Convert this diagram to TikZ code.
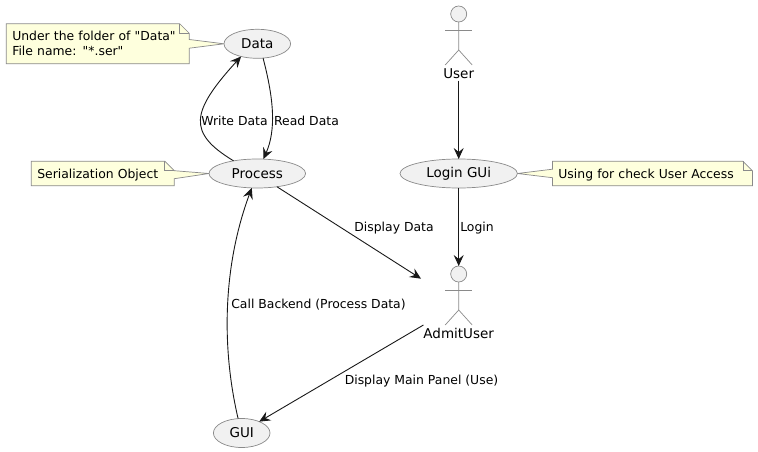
\documentclass[tikz,border=0pt]{standalone}
\usepackage{fontspec}
\setmainfont{DejaVu Sans}[Ligatures=TeXOff]
\usetikzlibrary{shapes.geometric,positioning,arrows.meta,backgrounds}
\definecolor{casefill}{HTML}{F1F1F1}
\definecolor{noteyellow}{HTML}{FEFFDD}
\definecolor{edgegray}{HTML}{8A8A8A}
\definecolor{linedark}{HTML}{181818}

\begin{document}
\begin{tikzpicture}[x=1pt,y=-1pt,every node/.style={outer sep=0pt},
		usecase/.style={ellipse,draw=edgegray,fill=casefill,line width=0.7pt,inner sep=0pt,minimum height=29pt,font=\fontsize{13.5}{16}\selectfont},
		actorpart/.style={draw=edgegray,line width=0.7pt},
		actorhead/.style={circle,actorpart,fill=casefill,inner sep=0pt,minimum size=16pt},
		actorlabel/.style={inner sep=0pt,font=\fontsize{13.5}{16}\selectfont},
		note/.style={inner xsep=6pt,inner ysep=0pt,align=left,font=\fontsize{12.4}{15}\selectfont},
		notebody/.style={draw=edgegray,fill=noteyellow,line width=0.7pt},
		flow/.style={draw=linedark,line width=0.9pt,-{Stealth[length=11pt,width=10pt,inset=4pt]}},
		flowlabel/.style={inner sep=0pt,font=\fontsize{12.4}{15}\selectfont}]

		\useasboundingbox (0,0) rectangle (758,452);

		\node[usecase,minimum width=66.6pt] (Data) at (257.3,43.8) {Data};
		\node[usecase,minimum width=96.6pt] (Process) at (257.3,173.5) {Process};
		\node[usecase,minimum width=117.4pt] (Login) at (458.7,173.5) {Login GUi};
		\node[usecase,minimum width=56.6pt] (GUI) at (241.7,433) {GUI};

		\foreach \X/\Y/\T in {User/14/User,Admit/274/AdmitUser}
		{
			\node[actorhead] (\X) at (458.7,\Y) {};
			\draw[actorpart] (\X.south) -- ++(0,28) coordinate(\X_hip) -- ++(-13.5,15);
			\draw[actorpart] (\X_hip) -- ++(13.5,15);
			\draw[actorpart] (\X.south) ++(-13.5,8) -- ++(27,0);
			\node[actorlabel,below=46.5pt of \X] (\X_label) {\T};
		}

		\node[note,text width=171pt,minimum height=40pt,left=34.7pt of Data] (noteData) {Under the folder of "Data"\\File name: "*.ser"};
		\node[note,text width=131pt,text depth=0pt,minimum height=24.6pt,left=34.7pt of Process] (noteProcess) {Serialization Object};
		\node[note,text width=188pt,text depth=0pt,minimum height=24.6pt,right=35pt of Login] (noteLogin) {Using for check User Access};

		\begin{scope}[on background layer]
			\draw[notebody] (noteData.north west) -- ([xshift=-9.5pt]noteData.north east)
			-- ([yshift=-9.5pt]noteData.north east) -- ([yshift=-15.7pt]noteData.north east)
			-- (Data.west) -- ([yshift=-24.4pt]noteData.north east)
			-- (noteData.south east) -- (noteData.south west) -- cycle;
			\draw[notebody] (noteProcess.north west) -- ([xshift=-9.5pt]noteProcess.north east)
			-- ([yshift=-9.5pt]noteProcess.north east) -- (Process.west)
			-- ([yshift=-17.5pt]noteProcess.north east)
			-- (noteProcess.south east) -- (noteProcess.south west) -- cycle;
			\draw[notebody] (noteLogin.north west) -- ([xshift=-9.5pt]noteLogin.north east)
			-- ([yshift=-9.5pt]noteLogin.north east) -- (noteLogin.south east)
			-- (noteLogin.south west) -- ([yshift=-16.5pt]noteLogin.north west)
			-- (Login.east) -- ([yshift=-8pt]noteLogin.north west) -- cycle;
		\end{scope}

		\foreach \N in {noteData,noteProcess,noteLogin}
		{
			\draw[edgegray,line width=0.7pt] ([xshift=-9.5pt]\N.north east) -- ++(0,9.5) -- ++(9.5,0);
		}

		\coordinate (aux1) at (421,278.7);

		\draw[flow] (Data.-68) .. controls +(11,42) and +(12.7,-29) .. (Process.67);
		\draw[flow] (Process.152) .. controls +(-46,-28) and +(-51,56) .. (Data.-142);
		\draw[flow] (GUI.104) .. controls +(-16,-68) and +(-30,81) .. (Process.-111);
		\draw[flow] (Process.-34) -- (aux1);
		\draw[flow] ([yshift=-2pt]User_label.south) -- (Login.north);
		\draw[flow] (Login.south) -- (Admit.north);
		\draw[flow] ([yshift=3.5pt]Admit_label.north west) -- (GUI.33);

		\node[flowlabel] (lblWrite) at (234.5,121) {Write Data};
		\node[flowlabel] (lblRead) at (306.5,121) {Read Data};
		\node[flowlabel] (lblDisplay) at (394,228.5) {Display Data};
		\node[flowlabel] (lblLogin) at (477,228.5) {Login};
		\node[flowlabel] (lblCall) at (318.5,305) {Call Backend (Process Data)};
		\node[flowlabel] (lblPanel) at (421.5,381.5) {Display Main Panel (Use)};

	\end{tikzpicture}
\end{document}
